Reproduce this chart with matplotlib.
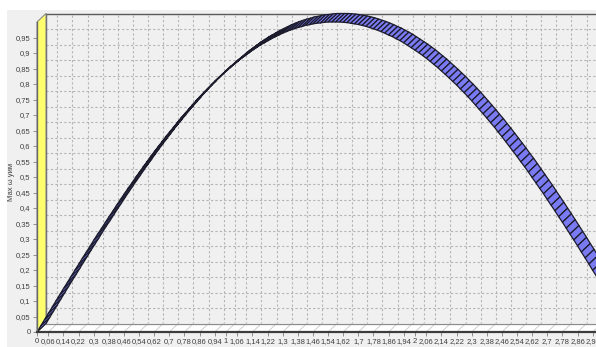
import numpy as np
import matplotlib.pyplot as plt
from matplotlib.patches import Polygon, Rectangle
from matplotlib.collections import PolyCollection, LineCollection

plt.rcParams['font.family'] = ['Liberation Sans', 'DejaVu Sans']

# data points, step 0.02 along x
x_step = 0.02
y_vals = [
    0.000, 0.020, 0.040, 0.060, 0.080, 0.100, 0.120, 0.140, 0.159, 0.179,
    0.199, 0.218, 0.238, 0.257, 0.276, 0.296, 0.315, 0.333, 0.352, 0.371,
    0.389, 0.408, 0.426, 0.444, 0.462, 0.479, 0.497, 0.514, 0.531, 0.548,
    0.565, 0.581, 0.597, 0.613, 0.629, 0.644, 0.659, 0.674, 0.689, 0.703,
    0.717, 0.731, 0.745, 0.758, 0.771, 0.783, 0.796, 0.808, 0.819, 0.831,
    0.841, 0.852, 0.862, 0.872, 0.882, 0.891, 0.900, 0.909, 0.917, 0.925,
    0.932, 0.939, 0.946, 0.952, 0.958, 0.964, 0.969, 0.974, 0.978, 0.982,
    0.985, 0.989, 0.991, 0.994, 0.996, 0.997, 0.999, 1.000, 1.000, 1.000,
    1.000, 0.999, 0.998, 0.996, 0.994, 0.992, 0.989, 0.986, 0.982, 0.978,
    0.974, 0.969, 0.964, 0.958, 0.953, 0.946, 0.940, 0.933, 0.925, 0.917,
    0.909, 0.901, 0.892, 0.883, 0.873, 0.863, 0.853, 0.842, 0.831, 0.820,
    0.808, 0.797, 0.784, 0.772, 0.759, 0.746, 0.732, 0.718, 0.704, 0.690,
    0.675, 0.661, 0.645, 0.630, 0.614, 0.598, 0.582, 0.566, 0.549, 0.533,
    0.516, 0.498, 0.481, 0.463, 0.446, 0.427, 0.409, 0.391, 0.372, 0.354,
    0.335, 0.316, 0.297, 0.278, 0.258, 0.239, 0.219, 0.199, 0.180, 0.161,
]
x_vals = np.arange(len(y_vals)) * x_step

x_ticks = [0, 0.06, 0.14, 0.22, 0.3, 0.38, 0.46, 0.54, 0.62, 0.7, 0.78, 0.86, 0.94,
           1, 1.06, 1.14, 1.22, 1.3, 1.38, 1.46, 1.54, 1.62, 1.7, 1.78, 1.86, 1.94,
           2, 2.06, 2.14, 2.22, 2.3, 2.38, 2.46, 2.54, 2.62, 2.7, 2.78, 2.86, 2.94]
y_ticks = [0, 0.05, 0.1, 0.15, 0.2, 0.25, 0.3, 0.35, 0.4, 0.45, 0.5,
           0.55, 0.6, 0.65, 0.7, 0.75, 0.8, 0.85, 0.9, 0.95]
y_title = 'Мах ω уим'

def fmt(v):
    return f'{v:g}'.replace('.', ',')

W, H = 596, 347
fig = plt.figure(figsize=(W / 100, H / 100), dpi=100, facecolor='white')
fig.patches.append(Rectangle((7 / W, 0), 1, 337 / H, transform=fig.transFigure,
                             facecolor='#f0f0f0', edgecolor='none', zorder=-10))

# front plane geometry (pixels)
x0_px, y0_px = 37, 15
px_x, px_y = 189, 310
depth = 9
xmax = (W - x0_px) / px_x
ax = fig.add_axes([x0_px / W, y0_px / H, (W - x0_px) / W, px_y / H])
ax.set_xlim(0, xmax)
ax.set_ylim(0, 1)
ax.patch.set_alpha(0)
dx = depth / px_x
dy = (depth - 0.5) / px_y
far = xmax + 1

# back wall
ax.add_patch(Rectangle((dx, dy), far, 1, facecolor='#f0f0f0', edgecolor='none',
                       clip_on=False, zorder=1))
grid = [[(xt + dx, dy), (xt + dx, 1 + dy)] for xt in x_ticks[1:]]
grid += [[(dx, yt + dy), (far, yt + dy)] for yt in y_ticks[1:]]
ax.add_collection(LineCollection(grid, colors='#b4b4b4', linewidths=0.8,
                                 linestyles=(0, (2, 2)), clip_on=False, zorder=2))
ax.plot([dx, far], [1 + dy, 1 + dy], color='#5a5a5a', lw=1, clip_on=False, zorder=2)
ax.plot([dx, dx], [dy, 1 + dy], color='#5a5a5a', lw=1, clip_on=False, zorder=2)

# floor
ax.add_patch(Polygon([(0, 0), (far, 0), (far + dx, dy), (dx, dy)], closed=True,
                     facecolor='white', edgecolor='none', clip_on=False, zorder=3))
diag = [[(xt, 0), (xt + dx, dy)] for xt in x_ticks]
ax.add_collection(LineCollection(diag, colors='#c8c8c8', linewidths=0.6,
                                 clip_on=False, zorder=3))
ax.plot([dx, far], [dy, dy], color='#8c8c8c', lw=0.9, clip_on=False, zorder=3)

# left wall
ax.add_patch(Polygon([(0, 0), (0, 1), (dx, 1 + dy), (dx, dy)], closed=True,
                     facecolor='#ffff6e', edgecolor='#8a8a8a', lw=0.8,
                     clip_on=False, zorder=4))

# ribbon
quads = []
for i in range(len(x_vals) - 1):
    xa, xb = x_vals[i], x_vals[i + 1]
    ya, yb = y_vals[i], y_vals[i + 1]
    quads.append([(xa, ya), (xb, yb), (xb + dx, yb + dy), (xa + dx, ya + dy)])
ax.add_collection(PolyCollection(quads, facecolors='#7a7af2', edgecolors='#1c1c2c',
                                 linewidths=0.9, clip_on=False, zorder=5))

for s in ['top', 'right']:
    ax.spines[s].set_visible(False)
ax.spines['left'].set_color('#6a6a6a')
ax.spines['left'].set_linewidth(1)
ax.spines['bottom'].set_color('#3c3c3c')
ax.spines['bottom'].set_linewidth(1.6)
for s in ['left', 'bottom']:
    ax.spines[s].set_zorder(6)

ax.set_xticks(x_ticks)
ax.set_xticklabels([fmt(v) for v in x_ticks])
ax.set_yticks(y_ticks)
ax.set_yticklabels([fmt(v) for v in y_ticks])
ax.tick_params(length=3, width=0.6, color='#808080', labelsize=5.5,
               labelcolor='#404040', pad=1.5)

fig.text(12 / W, 165 / H, y_title, rotation=90, fontsize=5.5, color='#404040',
         ha='center', va='center')

fig.savefig('out.png', dpi=100)
